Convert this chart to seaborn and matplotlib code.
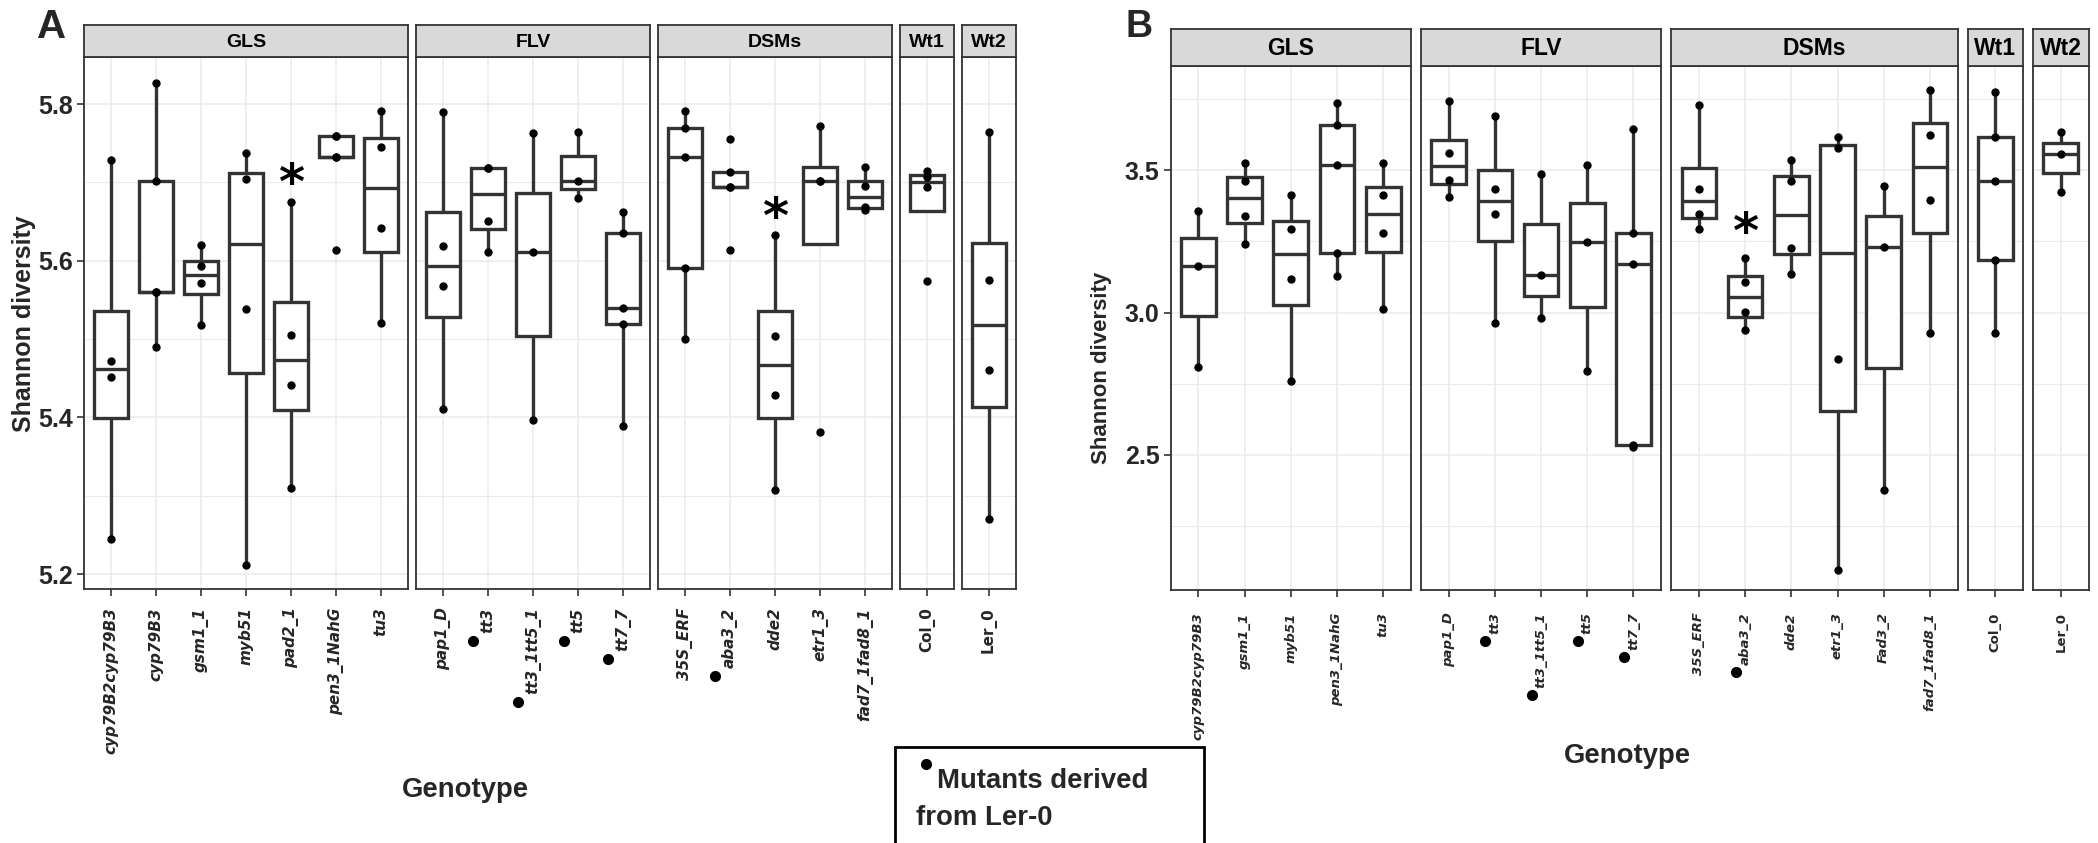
import matplotlib
matplotlib.use('Agg')
import matplotlib.pyplot as plt
import seaborn as sns
import pandas as pd
from matplotlib import font_manager
from matplotlib.lines import Line2D
from matplotlib.patches import Rectangle

# ---------------- data ----------------
groups = ["GLS", "FLV", "DSMs", "Wt1", "Wt2"]

# panel A
a_gls = ["cyp79B2cyp79B3", "cyp79B3", "gsm1_1", "myb51", "pad2_1", "pen3_1NahG", "tu3"]
a_gls_vals = [
    [5.728, 5.472, 5.451, 5.245],
    [5.827, 5.702, 5.560, 5.560, 5.490],
    [5.620, 5.593, 5.571, 5.518],
    [5.737, 5.704, 5.539, 5.212],
    [5.675, 5.505, 5.442, 5.310],
    [5.759, 5.759, 5.733, 5.733, 5.614],
    [5.791, 5.745, 5.642, 5.520],
]
a_flv = ["pap1_D", "tt3", "tt3_1tt5_1", "tt5", "tt7_7"]
a_flv_vals = [
    [5.790, 5.619, 5.568, 5.411],
    [5.719, 5.719, 5.651, 5.611],
    [5.763, 5.611, 5.397],
    [5.765, 5.702, 5.680],
    [5.662, 5.636, 5.540, 5.519, 5.389],
]
a_dsm = ["35S_ERF", "aba3_2", "dde2", "etr1_3", "fad7_1fad8_1"]
a_dsm_vals = [
    [5.791, 5.769, 5.732, 5.591, 5.500],
    [5.756, 5.713, 5.694, 5.694, 5.614],
    [5.633, 5.504, 5.429, 5.308],
    [5.772, 5.702, 5.702, 5.381],
    [5.720, 5.696, 5.668, 5.665],
]
a_wt1 = ["Col_0"]
a_wt1_vals = [[5.715, 5.707, 5.694, 5.574]]
a_wt2 = ["Ler_0"]
a_wt2_vals = [[5.765, 5.575, 5.461, 5.271]]
a_stars = [("GLS", "pad2_1", 5.697), ("DSMs", "dde2", 5.653)]
a_yticks = [5.2, 5.4, 5.6, 5.8]
a_yminor = [5.3, 5.5, 5.7]

# panel B
b_gls = ["cyp79B2cyp79B3", "gsm1_1", "myb51", "pen3_1NahG", "tu3"]
b_gls_vals = [
    [3.357, 3.164, 2.810],
    [3.526, 3.462, 3.341, 3.242],
    [3.412, 3.292, 3.117, 2.759],
    [3.735, 3.660, 3.520, 3.208, 3.129],
    [3.526, 3.412, 3.278, 3.013],
]
b_flv = ["pap1_D", "tt3", "tt3_1tt5_1", "tt5", "tt7_7"]
b_flv_vals = [
    [3.745, 3.561, 3.466, 3.405],
    [3.690, 3.436, 3.346, 2.963],
    [3.486, 3.133, 2.980],
    [3.520, 3.247, 2.793],
    [3.645, 3.278, 3.172, 2.535, 2.527],
]
b_dsm = ["35S_ERF", "aba3_2", "dde2", "etr1_3", "Fad3_2", "fad7_1fad8_1"]
b_dsm_vals = [
    [3.731, 3.436, 3.346, 3.292],
    [3.191, 3.106, 3.001, 2.939],
    [3.537, 3.462, 3.227, 3.137],
    [3.616, 3.580, 2.838, 2.094],
    [3.446, 3.232, 2.376],
    [3.784, 3.625, 3.395, 2.928],
]
b_wt1 = ["Col_0"]
b_wt1_vals = [[3.775, 3.616, 3.461, 3.186, 2.928]]
b_wt2 = ["Ler_0"]
b_wt2_vals = [[3.636, 3.556, 3.425]]
b_stars = [("DSMs", "aba3_2", 3.275)]
b_yticks = [2.5, 3.0, 3.5]
b_yminor = [2.25, 2.75, 3.25, 3.75]

ler_mutants = ["tt3", "tt3_1tt5_1", "tt5", "tt7_7", "aba3_2"]
upright = ["Col_0", "Ler_0"]

# ---------------- style ----------------
W, H = 2098, 843
sns.set_theme(style="white")
plt.rcParams['font.family'] = ['Liberation Sans', 'DejaVu Sans']
names = {f.name for f in font_manager.fontManager.ttflist}
if 'Liberation Sans Narrow' in names:
    cond_font, cond_scale = 'Liberation Sans Narrow', 1.0
else:
    cond_font, cond_scale = 'Liberation Sans', 0.86
EDGE = '#333333'
GRID = '#EBEBEB'

fig = plt.figure(figsize=(W / 100, H / 100), dpi=100)


def draw_panel(cats_by_group, vals_by_group, stars, x0, unit, gap, strip_top, top, bottom,
               ylim, yticks, yminor, ytick_fs, strip_fs, xlab_fs, xlab_pad):
    axes = {}
    x = x0
    for g, cats, vals in zip(groups, cats_by_group, vals_by_group):
        n = len(cats)
        w = (n + 0.2) * unit
        ax = fig.add_axes([x / W, 1 - bottom / H, w / W, (bottom - top) / H])
        rows = [(c, v) for c, vs in zip(cats, vals) for v in vs]
        df = pd.DataFrame(rows, columns=['Genotype', 'Shannon'])
        sns.boxplot(data=df, x='Genotype', y='Shannon', order=cats, ax=ax, width=0.75,
                    color='white', saturation=1, linecolor=EDGE, linewidth=2.4,
                    showfliers=False, showcaps=False)
        sns.stripplot(data=df, x='Genotype', y='Shannon', order=cats, ax=ax, jitter=False,
                      color='black', size=6, linewidth=0, zorder=4)
        ax.set_xlim(-0.6, n - 0.4)
        ax.set_ylim(*ylim)
        ax.set_xlabel('')
        ax.set_ylabel('')
        ax.set_yticks(yticks)
        ax.set_yticks(yminor, minor=True)
        ax.set_yticklabels([f"{v:.1f}" for v in yticks], fontsize=ytick_fs, fontweight='bold')
        ax.set_xticks(range(n))
        ax.set_xticklabels(cats, rotation=90, fontsize=xlab_fs, fontweight='bold',
                           fontstyle='italic', family='DejaVu Sans')
        for lbl in ax.get_xticklabels():
            if lbl.get_text() in upright:
                lbl.set_fontstyle('normal')
        ax.set_axisbelow(True)
        ax.grid(True, which='major', axis='both', color=GRID, lw=1.1)
        ax.grid(True, which='minor', axis='y', color=GRID, lw=0.8)
        ax.tick_params(which='major', direction='out', length=5, width=1.2, color=EDGE,
                       bottom=True, left=(g == 'GLS'), labelleft=(g == 'GLS'), pad=3)
        ax.tick_params(axis='x', pad=xlab_pad)
        ax.tick_params(which='minor', length=0)
        for s in ax.spines.values():
            s.set_color(EDGE)
            s.set_linewidth(1.3)
        for sg, gen, yv in stars:
            if sg == g:
                ax.text(cats.index(gen), yv, '*', ha='center', va='center', fontsize=36,
                        fontweight='bold', family='DejaVu Sans', color='black', zorder=5)

        sax = fig.add_axes([x / W, 1 - top / H, w / W, (top - strip_top) / H])
        sax.set_facecolor('#D9D9D9')
        sax.set_xticks([])
        sax.set_yticks([])
        for s in sax.spines.values():
            s.set_color(EDGE)
            s.set_linewidth(1.3)
        sax.text(0.5, 0.47, g, ha='center', va='center', fontsize=strip_fs,
                 fontweight='bold', transform=sax.transAxes, color='black')
        axes[g] = ax
        x += w + gap
    return axes


axes_a = draw_panel([a_gls, a_flv, a_dsm, a_wt1, a_wt2],
                    [a_gls_vals, a_flv_vals, a_dsm_vals, a_wt1_vals, a_wt2_vals], a_stars,
                    x0=84, unit=45, gap=8, strip_top=25, top=57.4, bottom=589.4,
                    ylim=(5.1805, 5.8596), yticks=a_yticks, yminor=a_yminor,
                    ytick_fs=18, strip_fs=14, xlab_fs=11, xlab_pad=8)
axes_b = draw_panel([b_gls, b_flv, b_dsm, b_wt1, b_wt2],
                    [b_gls_vals, b_flv_vals, b_dsm_vals, b_wt1_vals, b_wt2_vals], b_stars,
                    x0=1170.7, unit=46.2, gap=10, strip_top=28.7, top=66.2, bottom=590.1,
                    ylim=(2.024, 3.866), yticks=b_yticks, yminor=b_yminor,
                    ytick_fs=18, strip_fs=16.5, xlab_fs=9.5, xlab_pad=11)

# panel letters, axis titles
fig.text(37 / W, 1 - 8 / H, 'A', ha='left', va='top', fontsize=29, fontweight='bold')
fig.text(1125 / W, 1 - 9 / H, 'B', ha='left', va='top', fontsize=27, fontweight='bold')
fig.text(24 / W, 1 - 324 / H, 'Shannon diversity', rotation=90, ha='center', va='center',
         fontsize=18, fontweight='bold')
fig.text(1101 / W, 1 - 368 / H, 'Shannon diversity', rotation=90, ha='center', va='center',
         fontsize=16, fontweight='bold')
fig.text(465 / W, 1 - 790 / H, 'Genotype', ha='center', va='center',
         fontsize=23 * cond_scale, fontweight='bold', family=cond_font)
fig.text(1627 / W, 1 - 756 / H, 'Genotype', ha='center', va='center',
         fontsize=23 * cond_scale, fontweight='bold', family=cond_font)

# legend-like note box
fig.add_artist(Rectangle((895 / W, 1 - 860 / H), (1204 - 895) / W, (860 - 747) / H,
                         transform=fig.transFigure, fill=False, edgecolor='black', lw=2))
fig.add_artist(Line2D([926 / W], [1 - 764 / H], transform=fig.transFigure, marker='o',
                      ms=7, color='black', ls='none'))
fig.text(937 / W, 1 - 788 / H, 'Mutants derived', ha='left', va='baseline',
         fontsize=23 * cond_scale, fontweight='bold', family=cond_font)
fig.text(916 / W, 1 - 825 / H, 'from Ler-0', ha='left', va='baseline',
         fontsize=23 * cond_scale, fontweight='bold', family=cond_font)

# bullets marking Ler-0 derived mutants on tick labels
fig.canvas.draw()
renderer = fig.canvas.get_renderer()
for axes, dx, dy in [(axes_a, 7, 8), (axes_b, 3, 7)]:
    for ax in axes.values():
        for lbl in ax.get_xticklabels():
            if lbl.get_text() in ler_mutants:
                bb = lbl.get_window_extent(renderer)
                fig.add_artist(Line2D([(bb.x0 - dx) / W], [(bb.y0 - dy) / H],
                                      transform=fig.transFigure, marker='o', ms=7,
                                      color='black', ls='none'))

fig.savefig('out.png', dpi=100)
